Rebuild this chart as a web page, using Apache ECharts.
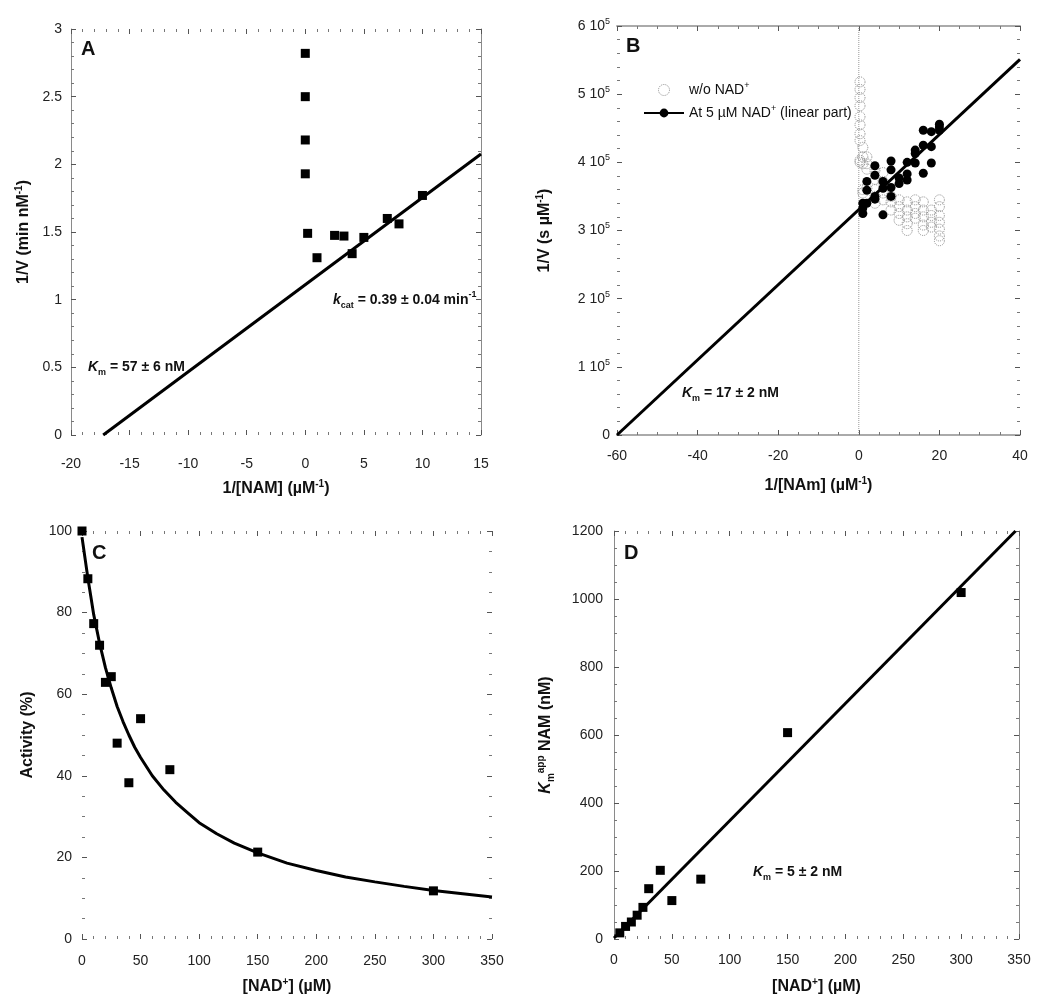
<!DOCTYPE html>
<html><head><meta charset="utf-8">
<script src="https://cdn.jsdelivr.net/npm/echarts@6/dist/echarts.min.js"></script>
<style>html,body{margin:0;padding:0;background:#fff}#c{width:1050px;height:1006px}</style>
</head><body><div id="c"></div>
<script>
const FONT = '"Liberation Sans", Arial, Helvetica, sans-serif';

// ---------- Panel A : 1/V vs 1/[NAM] ----------
const aX = [0, 0, 0, 0, 0.2, 1.0, 2.5, 3.3, 4, 5, 7, 8, 10];
const aY = [2.82, 2.50, 2.18, 1.93, 1.49, 1.31, 1.475, 1.47, 1.34, 1.46, 1.60, 1.56, 1.77];
const aFitX = [-17.25, 15];
const aFitY = [0, 2.076];
const aXRange = [-20, 15, 5];
const aYRange = [0, 3, 0.5];

// ---------- Panel B : 1/V vs 1/[NAm] ----------
const bOpenX = [0.3,0.3,0.3,0.3,0.3,0.3,0.3,0.3,0.3,0.3, 1,1,1,1,1, 2,2,2,2, 4,4,4,4,4, 6,6,6,6, 8,8,8,
  10,10,10,10, 12,12,12,12,12, 14,14,14,14, 16,16,16,16,16, 18,18,18,18, 20,20,20,20,20,20,20];
const bOpenY = [518000,507000,495000,483000,467000,455000,442000,432000,403000,400000,
  422000,408000,398000,360000,355000, 408000,398000,390000,362000,
  388000,375000,360000,350000,340000, 385000,372000,355000,345000, 350000,342000,330000,
  345000,335000,325000,315000, 342000,330000,320000,310000,300000, 345000,335000,325000,318000,
  342000,330000,320000,308000,300000, 330000,322000,312000,305000,
  345000,335000,322000,312000,302000,292000,285000];
const bFillX = [1,1,1, 2,2,2, 4,4,4,4, 6,6,6, 8,8,8,8, 10,10, 12,12,12, 14,14,14, 16,16,16, 18,18,18, 20,20,20];
const bFillY = [340000,333000,325000, 372000,359000,340000, 395000,381000,350000,346000,
  372000,362000,323000, 402000,389000,363000,350000, 377000,369000, 400000,383000,374000,
  418000,413000,399000, 447000,425000,384000, 445000,423000,399000, 456000,452000,447000];
const bFitX = [-60, 40];
const bFitY = [0, 551000];
const bXRange = [-60, 40, 20];
const bYRange = [0, 600000, 100000];

// ---------- Panel C : Activity vs [NAD+] ----------
const cX = [0, 5, 10, 15, 20, 25, 30, 40, 50, 75, 150, 300];
const cY = [100, 88.3, 77.3, 72.0, 62.9, 64.3, 48.0, 38.3, 54.0, 41.5, 21.3, 11.8];
const cCurveX = [0, 1, 2, 3, 5, 7.5, 10, 12.5, 15, 17.5, 20, 25, 30, 35, 40, 45, 50, 60, 70, 80, 90, 100,
  115, 130, 150, 175, 200, 225, 250, 275, 300, 325, 350];
const cCurveY = [98.5, 96.5, 94.5, 92.5, 88.5, 84, 79.5, 76, 72.5, 69.5, 66.5, 61.5, 57, 53.3, 50, 47, 44.5, 40, 36.5, 33.5, 31, 28.5,
  25.8, 23.5, 21.1, 18.6, 16.8, 15.2, 14, 12.9, 11.9, 11.1, 10.3];
const cXRange = [0, 350, 50];
const cYRange = [0, 100, 20];

// ---------- Panel D : Km app vs [NAD+] ----------
const dX = [5, 10, 15, 20, 25, 30, 40, 50, 75, 150, 300];
const dY = [18, 37, 50, 70, 93, 148, 202, 113, 176, 607, 1019];
const dFitX = [0, 347];
const dFitY = [3, 1200];
const dXRange = [0, 350, 50];
const dYRange = [0, 1200, 200];

const pts = (xs, ys) => xs.map((x, i) => [x, ys[i]]);

const richT = (size, weight) => ({
  sup: {fontSize: Math.round(size * 0.62), fontWeight: weight, fontFamily: FONT, color: '#111', verticalAlign: 'top', lineHeight: 10},
  sub: {fontSize: Math.round(size * 0.62), fontWeight: weight, fontFamily: FONT, color: '#111', verticalAlign: 'bottom', lineHeight: 10},
  it: {fontSize: size, fontWeight: weight, fontStyle: 'italic', fontFamily: FONT, color: '#111', lineHeight: 20}
});

const grids = [
  {left: 71, top: 29, width: 410, height: 406},
  {left: 617, top: 26, width: 403, height: 409},
  {left: 82, top: 531, width: 410, height: 408},
  {left: 614, top: 531, width: 405, height: 408}
].map(g => Object.assign({outerBoundsMode: 'none', containLabel: false}, g));

const tick = {show: true, inside: true, length: 5, lineStyle: {color: '#555', width: 1}};
const minor = n => ({show: true, splitNumber: n, length: 3, lineStyle: {color: '#777', width: 1}});
const lineOn = (show, color, width) => ({show: show, onZero: false, lineStyle: {color: color || '#8a8a8a', width: width || 1}});
const labelStyle = {fontSize: 14, color: '#222', fontFamily: FONT};
const nameStyle = {fontSize: 16, fontWeight: 'bold', fontFamily: FONT, color: '#111', lineHeight: 20, rich: richT(16, 'bold')};
const plain = v => String(v);

function axisPair(kind, gi, range, minorN, lineShow, lineColor, lineWidth, margin, name, nameGap, formatter) {
  const base = {type: 'value', gridIndex: gi, min: range[0], max: range[1], interval: range[2],
    splitLine: {show: false}, axisTick: tick, minorTick: minor(minorN), minorSplitLine: {show: false}};
  const main = Object.assign({}, base, {
    position: kind === 'x' ? 'bottom' : 'left',
    axisLine: lineOn(lineShow, lineColor, lineWidth),
    axisLabel: Object.assign({margin: margin, lineHeight: 18, formatter: formatter || plain,
      rich: {s: {fontSize: 9, fontFamily: FONT, color: '#222', verticalAlign: 'top', lineHeight: 9}}}, labelStyle),
    name: name, nameLocation: 'middle', nameGap: nameGap, nameTextStyle: nameStyle
  });
  const other = Object.assign({}, base, {
    position: kind === 'x' ? 'top' : 'right',
    axisLine: lineOn(lineShow, lineColor, lineWidth),
    axisLabel: {show: false}
  });
  return [main, other];
}

const xAxes = [].concat(
  axisPair('x', 0, aXRange, 5, false, null, 1, 20, '1/[NAM] (µM{sup|-1})', 44),
  axisPair('x', 1, bXRange, 4, true, '#aaa', 2, 12, '1/[NAm] (µM{sup|-1})', 41),
  axisPair('x', 2, cXRange, 5, false, null, 1, 13, '[NAD{sup|+}] (µM)', 38),
  axisPair('x', 3, dXRange, 5, false, null, 1, 12, '[NAD{sup|+}] (µM)', 38)
);
const yAxes = [].concat(
  axisPair('y', 0, aYRange, 5, true, '#8a8a8a', 1, 9, '1/V (min nM{sup|-1})', 37),
  axisPair('y', 1, bYRange, 5, false, null, 1, 7, '1/V (s µM{sup|-1})', 62,
    v => v === 0 ? '0' : (v / 100000) + ' 10{s|5}'),
  axisPair('y', 2, cYRange, 4, false, null, 1, 10, 'Activity (%)', 44),
  axisPair('y', 3, dYRange, 4, true, '#8a8a8a', 1, 11, '{it|K}{sub|m}{sup|app} NAM (nM)', 58)
);

const sq = (data, xi, yi, size) => ({type: 'scatter', xAxisIndex: xi, yAxisIndex: yi, data: data, symbol: 'rect',
  symbolSize: size, itemStyle: {color: '#000', opacity: 1}, clip: false, silent: true, z: 5});
const fit = (data, xi, yi, extra) => Object.assign({type: 'line', xAxisIndex: xi, yAxisIndex: yi, data: data, showSymbol: false,
  symbol: 'none', lineStyle: {color: '#000', width: 3}, itemStyle: {color: '#000'}, silent: true, z: 4, animation: false}, extra || {});

const series = [
  fit(pts(aFitX, aFitY), 0, 0),
  sq(pts(aX, aY), 0, 0, 9),
  // B
  {type: 'line', xAxisIndex: 2, yAxisIndex: 2, data: [[0, bYRange[0]], [0, bYRange[1]]], symbol: 'none',
    lineStyle: {color: '#999', width: 1, type: 'dotted'}, silent: true, z: 1},
  {type: 'scatter', name: 'w/o NAD+', xAxisIndex: 2, yAxisIndex: 2, data: pts(bOpenX, bOpenY), symbol: 'circle',
    symbolSize: 10, itemStyle: {color: 'rgba(255,255,255,0)', borderColor: '#8c8c8c', borderWidth: 1, borderType: 'dotted', opacity: 1}, silent: true, z: 2},
  fit(pts(bFitX, bFitY), 2, 2, {name: 'At 5 µM NAD+ (linear part)', symbol: 'circle', symbolSize: 9}),
  {type: 'scatter', name: 'filled', xAxisIndex: 2, yAxisIndex: 2, data: pts(bFillX, bFillY), symbol: 'circle',
    symbolSize: 9, itemStyle: {color: '#000', opacity: 1}, silent: true, z: 5, clip: false},
  // C
  fit(pts(cCurveX, cCurveY), 4, 4),
  sq(pts(cX, cY), 4, 4, 9),
  // D
  fit(pts(dFitX, dFitY), 6, 6),
  sq(pts(dX, dY), 6, 6, 9)
];

const ann = (x, y, text, size) => ({type: 'text', x: x, y: y, z: 100, style: {text: text, fontSize: size, fontWeight: 'bold',
  fontFamily: FONT, fill: '#111', align: 'left', verticalAlign: 'middle', lineHeight: 20, rich: richT(size, 'bold')}});

const option = {
  animation: false,
  backgroundColor: '#fff',
  grid: grids,
  xAxis: xAxes,
  yAxis: yAxes,
  series: series,
  legend: {
    orient: 'vertical', left: 638, top: 76, itemWidth: 40, itemHeight: 11, itemGap: 5,
    selectedMode: false,
    textStyle: {fontSize: 14, color: '#111', fontFamily: FONT, lineHeight: 18,
      rich: {sup: {fontSize: 9, fontFamily: FONT, color: '#111', verticalAlign: 'top', lineHeight: 9}}},
    formatter: n => n === 'w/o NAD+' ? 'w/o NAD{sup|+}' : 'At 5 µM NAD{sup|+} (linear part)',
    data: [
      {name: 'w/o NAD+', icon: 'circle', itemStyle: {color: '#fff', borderColor: '#8c8c8c', borderWidth: 1, borderType: 'dotted'}},
      {name: 'At 5 µM NAD+ (linear part)', lineStyle: {width: 2}}
    ]
  },
  graphic: [
    ann(81, 49, 'A', 20),
    ann(333, 300, '{it|k}{sub|cat} = 0.39 ± 0.04 min{sup|-1}', 14),
    ann(88, 367, '{it|K}{sub|m} = 57 ± 6 nM', 14),
    ann(626, 46, 'B', 20),
    ann(682, 393, '{it|K}{sub|m} = 17 ± 2 nM', 14),
    ann(92, 553, 'C', 20),
    ann(624, 553, 'D', 20),
    ann(753, 872, '{it|K}{sub|m} = 5 ± 2 nM', 14)
  ]
};

const chart = echarts.init(document.getElementById('c'), null, {renderer: 'canvas'});
chart.setOption(option);
</script>
</body></html>
